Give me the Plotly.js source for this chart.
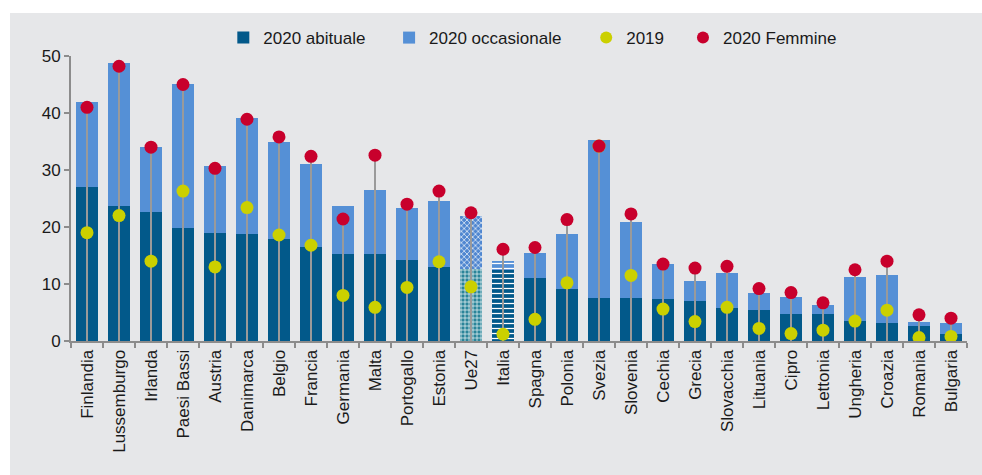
<!DOCTYPE html>
<html>
<head>
<meta charset="utf-8">
<script src="https://cdn.plot.ly/plotly-3.0.1.min.js"></script>
<style>
html,body{margin:0;padding:0;background:#ffffff;width:982px;height:475px;overflow:hidden;}
#chart{position:absolute;left:10px;top:13px;width:972px;height:462px;}
</style>
</head>
<body>
<div id="chart"></div>
<script>
var categories = ["Finlandia","Lussemburgo","Irlanda","Paesi Bassi","Austria","Danimarca","Belgio","Francia","Germania","Malta","Portogallo","Estonia","Ue27","Italia","Spagna","Polonia","Svezia","Slovenia","Cechia","Grecia","Slovacchia","Lituania","Cipro","Lettonia","Ungheria","Croazia","Romania","Bulgaria"];
var abituale2020 = [27.0,23.7,22.7,19.8,19.0,18.7,17.9,16.5,15.3,15.2,14.2,13.0,12.6,12.5,11.1,9.1,7.6,7.6,7.3,7.0,5.8,5.4,4.7,4.7,3.5,3.2,2.6,1.2];
var occasionale2020 = [15.0,25.1,11.3,25.3,11.7,20.5,17.1,14.5,8.4,11.3,9.2,11.5,9.3,1.5,4.4,9.7,27.6,13.2,6.2,3.6,6.1,3.1,3.0,1.7,7.7,8.4,0.7,1.9];
var valori2019 = [19.0,22.0,14.0,26.3,13.0,23.4,18.6,16.8,8.0,5.9,9.4,13.9,9.5,1.2,3.8,10.2,34.2,11.5,5.6,3.4,5.9,2.2,1.3,1.9,3.5,5.4,0.6,0.8];
var femmine2020 = [41.0,48.2,34.0,45.0,30.3,38.9,35.8,32.4,21.4,32.6,24.0,26.3,22.5,16.1,16.4,21.3,34.2,22.3,13.5,12.8,13.1,9.2,8.5,6.7,12.5,14.0,4.6,4.0];

var cDark = "#02598a", cLight = "#5590d6", cYellow = "#cbd000", cRed = "#c8002c", cGrey = "#9a9a9a";

function patt(kind, base){
  return {
    shape: categories.map(function(c){ return c==="Ue27" ? (kind==="abit" ? "+" : "x") : (c==="Italia" ? "-" : ""); }),
    fgcolor: categories.map(function(c){ return "#ffffff"; }),
    bgcolor: categories.map(function(c){ return c==="Ue27" ? (kind==="abit" ? "#2a8499" : "#4f86d0") : base; }),
    size: categories.map(function(c){ return c==="Ue27" ? 4 : 5; }),
    solidity: categories.map(function(c){ return c==="Ue27" ? 0.3 : 0.25; }),
    fillmode: "replace"
  };
}

var lineX = [], lineY = [];
categories.forEach(function(c,i){ lineX.push(c,c,null); lineY.push(0,femmine2020[i],null); });

var traces = [
  {type:"bar", name:"2020 abituale", x:categories, y:abituale2020, marker:{color:cDark, line:{width:0}, pattern:patt("abit",cDark)}, legend:"legend", hoverinfo:"skip"},
  {type:"bar", name:"2020 occasionale", x:categories, y:occasionale2020, marker:{color:cLight, line:{width:0}, pattern:patt("occ",cLight)}, legend:"legend2", hoverinfo:"skip"},
  {type:"scatter", mode:"lines", x:lineX, y:lineY, line:{color:cGrey, width:2}, showlegend:false, hoverinfo:"skip"},
  {type:"scatter", mode:"markers", name:"2019", x:categories, y:valori2019, marker:{color:cYellow, size:13}, legend:"legend3", hoverinfo:"skip"},
  {type:"scatter", mode:"markers", name:"2020 Femmine", x:categories, y:femmine2020, marker:{color:cRed, size:13}, legend:"legend4", hoverinfo:"skip"}
];

var legBase = {orientation:"h", yanchor:"middle", y:1.063, xanchor:"left", bgcolor:"rgba(0,0,0,0)", font:{family:"Liberation Sans, Arial, sans-serif", size:17, color:"#1a1a1a"}, itemwidth:30, itemsizing:"constant"};
function leg(x){ var o = JSON.parse(JSON.stringify(legBase)); o.x = x; return o; }

var layout = {
  width:972, height:462,
  paper_bgcolor:"#e6e7e9", plot_bgcolor:"#e6e7e9",
  margin:{l:61, r:15, t:43, b:134, autoexpand:false},
  barmode:"stack", bargap:0.29,
  font:{family:"Liberation Sans, Arial, sans-serif", size:17, color:"#1a1a1a"},
  showlegend:true,
  legend:leg(0.17), legend2:leg(0.355), legend3:leg(0.575), legend4:leg(0.683),
  xaxis:{type:"category", range:[-0.5, categories.length-0.5], automargin:false, tickangle:-90, showline:true, linecolor:"#8c8c8c", linewidth:2, ticks:"outside", tickson:"boundaries", ticklen:5, tickcolor:"#8c8c8c", tickwidth:2, showgrid:false, zeroline:false, tickfont:{size:17, color:"#1a1a1a"}},
  yaxis:{range:[0,50], dtick:10, automargin:false, showline:true, linecolor:"#8c8c8c", linewidth:2, ticks:"outside", ticklen:5, tickcolor:"#8c8c8c", tickwidth:2, showgrid:false, zeroline:false, tickfont:{size:17, color:"#1a1a1a"}}
};

Plotly.newPlot("chart", traces, layout, {displayModeBar:false, staticPlot:true});
</script>
</body>
</html>
